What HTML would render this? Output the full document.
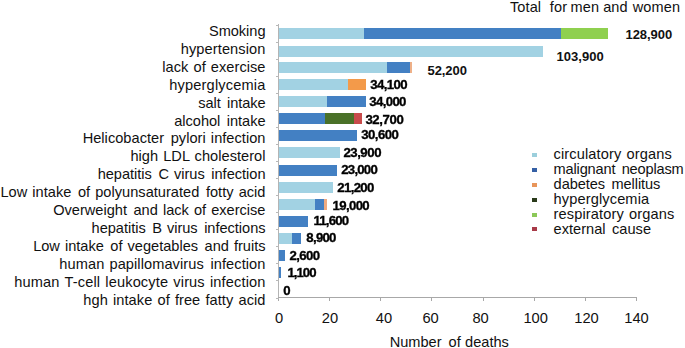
<!DOCTYPE html>
<html><head><meta charset="utf-8"><style>
html,body{margin:0;padding:0;background:#fff;}
body{width:685px;height:348px;position:relative;overflow:hidden;font-family:"Liberation Sans",sans-serif;color:#111;}
.l i{display:inline-block;width:1.5px}
.l{position:absolute;right:419.5px;word-spacing:1px;white-space:nowrap;font-size:14.6px;line-height:18px;height:18px;text-align:right;}
.r{position:absolute;left:0;top:0;width:685px;height:348px;filter:blur(0.65px);}
.b{position:absolute;height:11px;}
.v{position:absolute;font-weight:bold;font-size:13.2px;line-height:14px;white-space:nowrap;filter:blur(0.6px);color:#000;-webkit-text-stroke:0.35px #000;}
.V{position:absolute;font-weight:bold;font-size:13px;line-height:14px;white-space:nowrap;color:#111;}
.t{position:absolute;font-size:14.5px;line-height:16px;white-space:nowrap;}
.x{position:absolute;top:309.7px;font-size:14.7px;line-height:16px;width:40px;text-align:center;}
.g i{display:inline-block;width:1.5px}
.g{position:absolute;font-size:14.6px;line-height:16px;white-space:nowrap;left:553.6px;word-spacing:1px;}
.d{position:absolute;width:5px;height:4px;left:531.6px;margin-top:-0.3px;filter:blur(0.7px);}
</style></head><body>

<div class="t" style="left:510px;top:-1.4px;letter-spacing:0.1px">Total<i style="display:inline-block;width:4.6px"></i> for<i style="display:inline-block;width:0;margin-left:-0.7px"></i> men and<i style="display:inline-block;width:1px"></i> women</div>
<div class="l" style="top:22.0px;letter-spacing:-0.029px">Smoking</div>
<div class="l" style="top:39.9px;letter-spacing:0.100px">hypertension</div>
<div class="l" style="top:57.8px;letter-spacing:0.038px">lack of exercise</div>
<div class="l" style="top:75.7px;letter-spacing:0.162px">hyperglycemia</div>
<div class="l" style="top:93.6px;letter-spacing:-0.091px">salt<i></i> intake</div>
<div class="l" style="top:111.5px;letter-spacing:-0.036px">alcohol<i></i> intake</div>
<div class="l" style="top:129.4px;letter-spacing:0.031px">Helicobacter<i></i> pylori infection</div>
<div class="l" style="top:147.3px;letter-spacing:0.030px">high LDL cholesterol</div>
<div class="l" style="top:165.2px;letter-spacing:-0.015px">hepatitis<i></i> C virus<i></i> infection</div>
<div class="l" style="top:183.1px;letter-spacing:0.017px">Low intake<i></i> of polyunsaturated<i></i> fotty acid</div>
<div class="l" style="top:201.0px;letter-spacing:0.000px">Overweight<i></i> and lack of exercise</div>
<div class="l" style="top:218.9px;letter-spacing:-0.029px">hepatitis<i></i> B virus<i></i> infections</div>
<div class="l" style="top:236.8px;letter-spacing:-0.011px">Low intake<i></i> of vegetables<i></i> and fruits</div>
<div class="l" style="top:254.7px;letter-spacing:0.077px">human papillomavirus<i></i> infection</div>
<div class="l" style="top:272.6px;letter-spacing:0.129px">human T-cell leukocyte virus infection</div>
<div class="l" style="top:290.5px;letter-spacing:0.066px">hgh intake of free fatty acid</div>
<div class="r">
<div style="position:absolute;left:277.7px;top:24px;width:1px;height:274px;background:#b4b4b4"></div>
<div style="position:absolute;left:277.7px;top:297.4px;width:358px;height:1px;background:#a8a8a8"></div>
<div style="position:absolute;left:278.1px;top:297.4px;width:1px;height:3.2px;background:#a8a8a8"></div>
<div style="position:absolute;left:329.2px;top:297.4px;width:1px;height:3.2px;background:#a8a8a8"></div>
<div style="position:absolute;left:380.3px;top:297.4px;width:1px;height:3.2px;background:#a8a8a8"></div>
<div style="position:absolute;left:431.4px;top:297.4px;width:1px;height:3.2px;background:#a8a8a8"></div>
<div style="position:absolute;left:482.5px;top:297.4px;width:1px;height:3.2px;background:#a8a8a8"></div>
<div style="position:absolute;left:533.6px;top:297.4px;width:1px;height:3.2px;background:#a8a8a8"></div>
<div style="position:absolute;left:584.7px;top:297.4px;width:1px;height:3.2px;background:#a8a8a8"></div>
<div style="position:absolute;left:635.8px;top:297.4px;width:1px;height:3.2px;background:#a8a8a8"></div>
<div style="position:absolute;left:276px;top:24.5px;width:2.5px;height:1px;background:#b8b8b8"></div>
<div style="position:absolute;left:276px;top:41.6px;width:2.5px;height:1px;background:#b8b8b8"></div>
<div style="position:absolute;left:276px;top:58.6px;width:2.5px;height:1px;background:#b8b8b8"></div>
<div style="position:absolute;left:276px;top:75.7px;width:2.5px;height:1px;background:#b8b8b8"></div>
<div style="position:absolute;left:276px;top:92.7px;width:2.5px;height:1px;background:#b8b8b8"></div>
<div style="position:absolute;left:276px;top:109.8px;width:2.5px;height:1px;background:#b8b8b8"></div>
<div style="position:absolute;left:276px;top:126.9px;width:2.5px;height:1px;background:#b8b8b8"></div>
<div style="position:absolute;left:276px;top:143.9px;width:2.5px;height:1px;background:#b8b8b8"></div>
<div style="position:absolute;left:276px;top:161.0px;width:2.5px;height:1px;background:#b8b8b8"></div>
<div style="position:absolute;left:276px;top:178.0px;width:2.5px;height:1px;background:#b8b8b8"></div>
<div style="position:absolute;left:276px;top:195.1px;width:2.5px;height:1px;background:#b8b8b8"></div>
<div style="position:absolute;left:276px;top:212.2px;width:2.5px;height:1px;background:#b8b8b8"></div>
<div style="position:absolute;left:276px;top:229.2px;width:2.5px;height:1px;background:#b8b8b8"></div>
<div style="position:absolute;left:276px;top:246.3px;width:2.5px;height:1px;background:#b8b8b8"></div>
<div style="position:absolute;left:276px;top:263.3px;width:2.5px;height:1px;background:#b8b8b8"></div>
<div style="position:absolute;left:276px;top:280.4px;width:2.5px;height:1px;background:#b8b8b8"></div>
<div style="position:absolute;left:276px;top:297.5px;width:2.5px;height:1px;background:#b8b8b8"></div>
<div class="b" style="left:278.5px;top:27.7px;width:85.1px;background:#a2d2e3"></div>
<div class="b" style="left:363.6px;top:27.7px;width:197.2px;background:#4380c3"></div>
<div class="b" style="left:560.8px;top:27.7px;width:47.3px;background:#8fd04f"></div>
<div class="b" style="left:278.5px;top:45.7px;width:264.7px;background:#a2d2e3"></div>
<div class="b" style="left:278.5px;top:61.9px;width:108.3px;background:#a2d2e3"></div>
<div class="b" style="left:386.8px;top:61.9px;width:23.0px;background:#4380c3"></div>
<div class="b" style="left:409.8px;top:61.9px;width:1.8px;background:#eeb088"></div>
<div class="b" style="left:278.5px;top:79.0px;width:69.5px;background:#a2d2e3"></div>
<div class="b" style="left:348.0px;top:79.0px;width:17.6px;background:#f39a4a"></div>
<div class="b" style="left:278.5px;top:96.1px;width:48.5px;background:#a2d2e3"></div>
<div class="b" style="left:327.0px;top:96.1px;width:38.6px;background:#4380c3"></div>
<div class="b" style="left:278.5px;top:113.2px;width:46.5px;background:#4380c3"></div>
<div class="b" style="left:325.0px;top:113.2px;width:29.4px;background:#4a7128"></div>
<div class="b" style="left:354.4px;top:113.2px;width:7.7px;background:#c84b4b"></div>
<div class="b" style="left:278.5px;top:130.3px;width:78.4px;background:#4380c3"></div>
<div class="b" style="left:278.5px;top:147.4px;width:61.1px;background:#a2d2e3"></div>
<div class="b" style="left:278.5px;top:164.6px;width:58.8px;background:#4380c3"></div>
<div class="b" style="left:278.5px;top:181.7px;width:54.7px;background:#a2d2e3"></div>
<div class="b" style="left:278.5px;top:198.8px;width:36.0px;background:#a2d2e3"></div>
<div class="b" style="left:314.5px;top:198.8px;width:9.2px;background:#4380c3"></div>
<div class="b" style="left:323.7px;top:198.8px;width:3.6px;background:#eeaa80"></div>
<div class="b" style="left:278.5px;top:215.9px;width:29.4px;background:#4380c3"></div>
<div class="b" style="left:278.5px;top:233.0px;width:13.0px;background:#a2d2e3"></div>
<div class="b" style="left:291.5px;top:233.0px;width:9.5px;background:#4380c3"></div>
<div class="b" style="left:278.5px;top:250.1px;width:6.9px;background:#4380c3"></div>
<div class="b" style="left:278.5px;top:267.2px;width:2.6px;background:#4380c3"></div>
</div>
<div class="x" style="left:259.0px">0</div>
<div class="x" style="left:309.9px">20</div>
<div class="x" style="left:363.9px">40</div>
<div class="x" style="left:410.6px">60</div>
<div class="x" style="left:460.6px">80</div>
<div class="x" style="left:515.7px">100</div>
<div class="x" style="left:566.5px">120</div>
<div class="x" style="left:616.5px">140</div>
<div class="V" id="v0" style="left:625.48px;top:27.51px;letter-spacing:-0.046px">128,900</div>
<div class="V" id="v1" style="left:556.50px;top:50.39px;letter-spacing:0.057px">103,900</div>
<div class="V" id="v2" style="left:427.46px;top:64.45px;letter-spacing:-0.053px">52,200</div>
<div class="v" id="v3" style="left:370.34px;top:78.48px;letter-spacing:-0.627px">34,100</div>
<div class="v" id="v4" style="left:369.32px;top:94.54px;letter-spacing:-0.640px">34,000</div>
<div class="v" id="v5" style="left:365.40px;top:113.33px;letter-spacing:-0.387px">32,700</div>
<div class="v" id="v6" style="left:361.32px;top:127.51px;letter-spacing:-0.560px">30,600</div>
<div class="v" id="v7" style="left:343.40px;top:146.39px;letter-spacing:-0.453px">23,900</div>
<div class="v" id="v8" style="left:341.30px;top:162.51px;letter-spacing:-0.773px">23,000</div>
<div class="v" id="v9" style="left:337.28px;top:180.51px;letter-spacing:-0.640px">21,200</div>
<div class="v" id="v10" style="left:332.48px;top:199.39px;letter-spacing:-0.627px">19,000</div>
<div class="v" id="v11" style="left:313.38px;top:214.42px;letter-spacing:-0.773px">11,600</div>
<div class="v" id="v12" style="left:306.36px;top:231.36px;letter-spacing:-0.736px">8,900</div>
<div class="v" id="v13" style="left:289.40px;top:248.60px;letter-spacing:-0.592px">2,600</div>
<div class="v" id="v14" style="left:287.40px;top:266.48px;letter-spacing:-0.960px">1,100</div>
<div class="v" id="v15" style="left:283.26px;top:283.54px;letter-spacing:0.000px">0</div>
<div class="g" id="g0" style="top:145.9px;letter-spacing:0.12px">circulatory organs</div>
<div class="d" style="top:152.9px;background:#9ccfdc"></div>
<div class="g" id="g1" style="top:161.1px;letter-spacing:-0.18px">malignant<i></i> neoplasm</div>
<div class="d" style="top:168.1px;background:#3560a5"></div>
<div class="g" id="g2" style="top:176.0px;letter-spacing:-0.08px">dabetes<i></i> mellitus</div>
<div class="d" style="top:183.0px;background:#e8955a"></div>
<div class="g" id="g3" style="top:191.3px;letter-spacing:0.12px">hyperglycemia</div>
<div class="d" style="top:198.3px;background:#2a3a1a"></div>
<div class="g" id="g4" style="top:206.2px;letter-spacing:0.12px">respiratory organs</div>
<div class="d" style="top:213.2px;background:#8cc858"></div>
<div class="g" id="g5" style="top:220.5px;letter-spacing:0.0px">external<i></i> cause</div>
<div class="d" style="top:227.5px;background:#a83a48"></div>
<div class="t" id="xt" style="left:389.7px;top:334.4px;font-size:14.6px;word-spacing:0.3px">Number<i style="display:inline-block;width:2.6px"></i> of deaths</div>
</body></html>
